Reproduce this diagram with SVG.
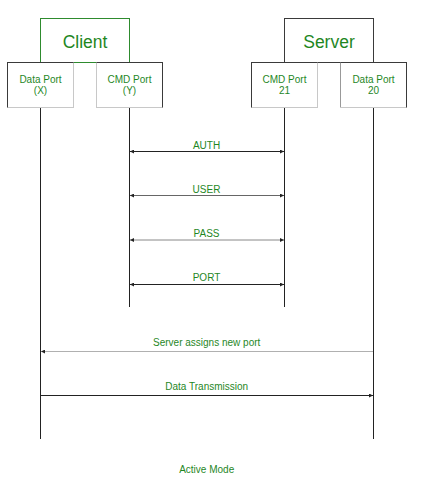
<svg xmlns="http://www.w3.org/2000/svg" width="422" height="482" viewBox="0 0 422 482">
<defs>
<marker id="ah" viewBox="0 0 4 4" refX="4" refY="2" markerWidth="4" markerHeight="4" markerUnits="userSpaceOnUse" orient="auto-start-reverse">
<path d="M0,0 L4,2 L0,4 Z" fill="#222"/>
</marker>
</defs>
<style>
.t{font-family:"Liberation Sans",Arial,sans-serif;fill:#1f871f;text-anchor:middle}
.s{font-size:10px}
.b{font-size:17.5px}
.d{stroke:#3a3a3a;stroke-width:1}
.l{stroke:#c8c8c8;stroke-width:1}
.m{stroke:#999;stroke-width:1}
.g{stroke:#2e8b2e;stroke-width:1}
.life{stroke:#222;stroke-width:1}
</style>
<rect width="422" height="482" fill="#fff"/>
<g id="connectors" fill="none">
<line class="life" x1="40.5" y1="107" x2="40.5" y2="439"/>
<line class="life" x1="129.5" y1="107" x2="129.5" y2="307"/>
<line class="life" x1="284.5" y1="107" x2="284.5" y2="307"/>
<line class="life" x1="373.5" y1="107" x2="373.5" y2="439"/>
<line x1="130" y1="151.5" x2="284" y2="151.5" stroke="#222" marker-start="url(#ah)" marker-end="url(#ah)"/>
<line x1="130" y1="195.5" x2="284" y2="195.5" stroke="#666" marker-start="url(#ah)" marker-end="url(#ah)"/>
<line x1="130" y1="240" x2="284" y2="240" stroke="#888" marker-start="url(#ah)" marker-end="url(#ah)"/>
<line x1="130" y1="284.5" x2="284" y2="284.5" stroke="#222" marker-start="url(#ah)" marker-end="url(#ah)"/>
<line x1="373" y1="351.5" x2="41" y2="351.5" stroke="#b0b0b0" marker-end="url(#ah)"/>
<line x1="41" y1="395.5" x2="373" y2="395.5" stroke="#222" marker-end="url(#ah)"/>
<text class="t s" x="206.5" y="149">AUTH</text>
<text class="t s" x="206.5" y="193">USER</text>
<text class="t s" x="206.5" y="237">PASS</text>
<text class="t s" x="206.5" y="281">PORT</text>
<text class="t s" x="206.7" y="345.5">Server assigns new port</text>
<text class="t s" x="206.7" y="390">Data Transmission</text>
</g>
<g id="client">
<rect x="40.5" y="18.5" width="89" height="44" fill="#fff"/>
<line class="g" x1="40.5" y1="18" x2="40.5" y2="62.5"/>
<line class="g" x1="40" y1="18.5" x2="130" y2="18.5"/>
<line class="g" x1="129.5" y1="18" x2="129.5" y2="62.5"/>
<line class="g" x1="73" y1="62.5" x2="97" y2="62.5"/>
<text class="t b" x="85" y="47.5">Client</text>
</g>
<g id="server">
<rect x="284.5" y="18.5" width="89" height="44" fill="#fff" class="d"/>
<text class="t b" x="329" y="47.5">Server</text>
</g>
<g id="client-data-port">
<rect x="7.5" y="62.5" width="66" height="45" fill="#fff"/>
<line class="l" x1="73.5" y1="62.5" x2="73.5" y2="107.5"/>
<line class="l" x1="7.5" y1="107.5" x2="74" y2="107.5"/>
<line class="d" x1="7.5" y1="62" x2="7.5" y2="107.5"/>
<line class="d" x1="7" y1="62.5" x2="73.5" y2="62.5"/>
<text class="t s" x="40.5" y="82.5">Data Port</text>
<text class="t s" x="40.5" y="94">(X)</text>
</g>
<g id="client-cmd-port">
<rect x="96.5" y="62.5" width="66" height="45" fill="#fff"/>
<line class="l" x1="96.5" y1="62.5" x2="96.5" y2="107.5"/>
<line class="l" x1="96" y1="107.5" x2="162.5" y2="107.5"/>
<line class="d" x1="162.5" y1="62" x2="162.5" y2="107.5"/>
<line class="d" x1="96.5" y1="62.5" x2="163" y2="62.5"/>
<text class="t s" x="129.5" y="82.5">CMD Port</text>
<text class="t s" x="129.5" y="94">(Y)</text>
</g>
<g id="server-cmd-port">
<rect x="251.5" y="62.5" width="66" height="45" fill="#fff"/>
<line class="l" x1="317.5" y1="62.5" x2="317.5" y2="107.5"/>
<line class="l" x1="251.5" y1="107.5" x2="318" y2="107.5"/>
<line class="d" x1="251.5" y1="62" x2="251.5" y2="107.5"/>
<line class="d" x1="251" y1="62.5" x2="317.5" y2="62.5"/>
<text class="t s" x="284.5" y="82.5">CMD Port</text>
<text class="t s" x="284.5" y="94">21</text>
</g>
<g id="server-data-port">
<rect x="340.5" y="62.5" width="66" height="45" fill="#fff"/>
<line class="m" x1="340.5" y1="62.5" x2="340.5" y2="107.5"/>
<line class="l" x1="340" y1="107.5" x2="406.5" y2="107.5"/>
<line class="d" x1="406.5" y1="62" x2="406.5" y2="107.5"/>
<line class="d" x1="340.5" y1="62.5" x2="407" y2="62.5"/>
<text class="t s" x="373.5" y="82.5">Data Port</text>
<text class="t s" x="373.5" y="94">20</text>
</g>
<text class="t s" x="206.7" y="472.5">Active Mode</text>
</svg>
